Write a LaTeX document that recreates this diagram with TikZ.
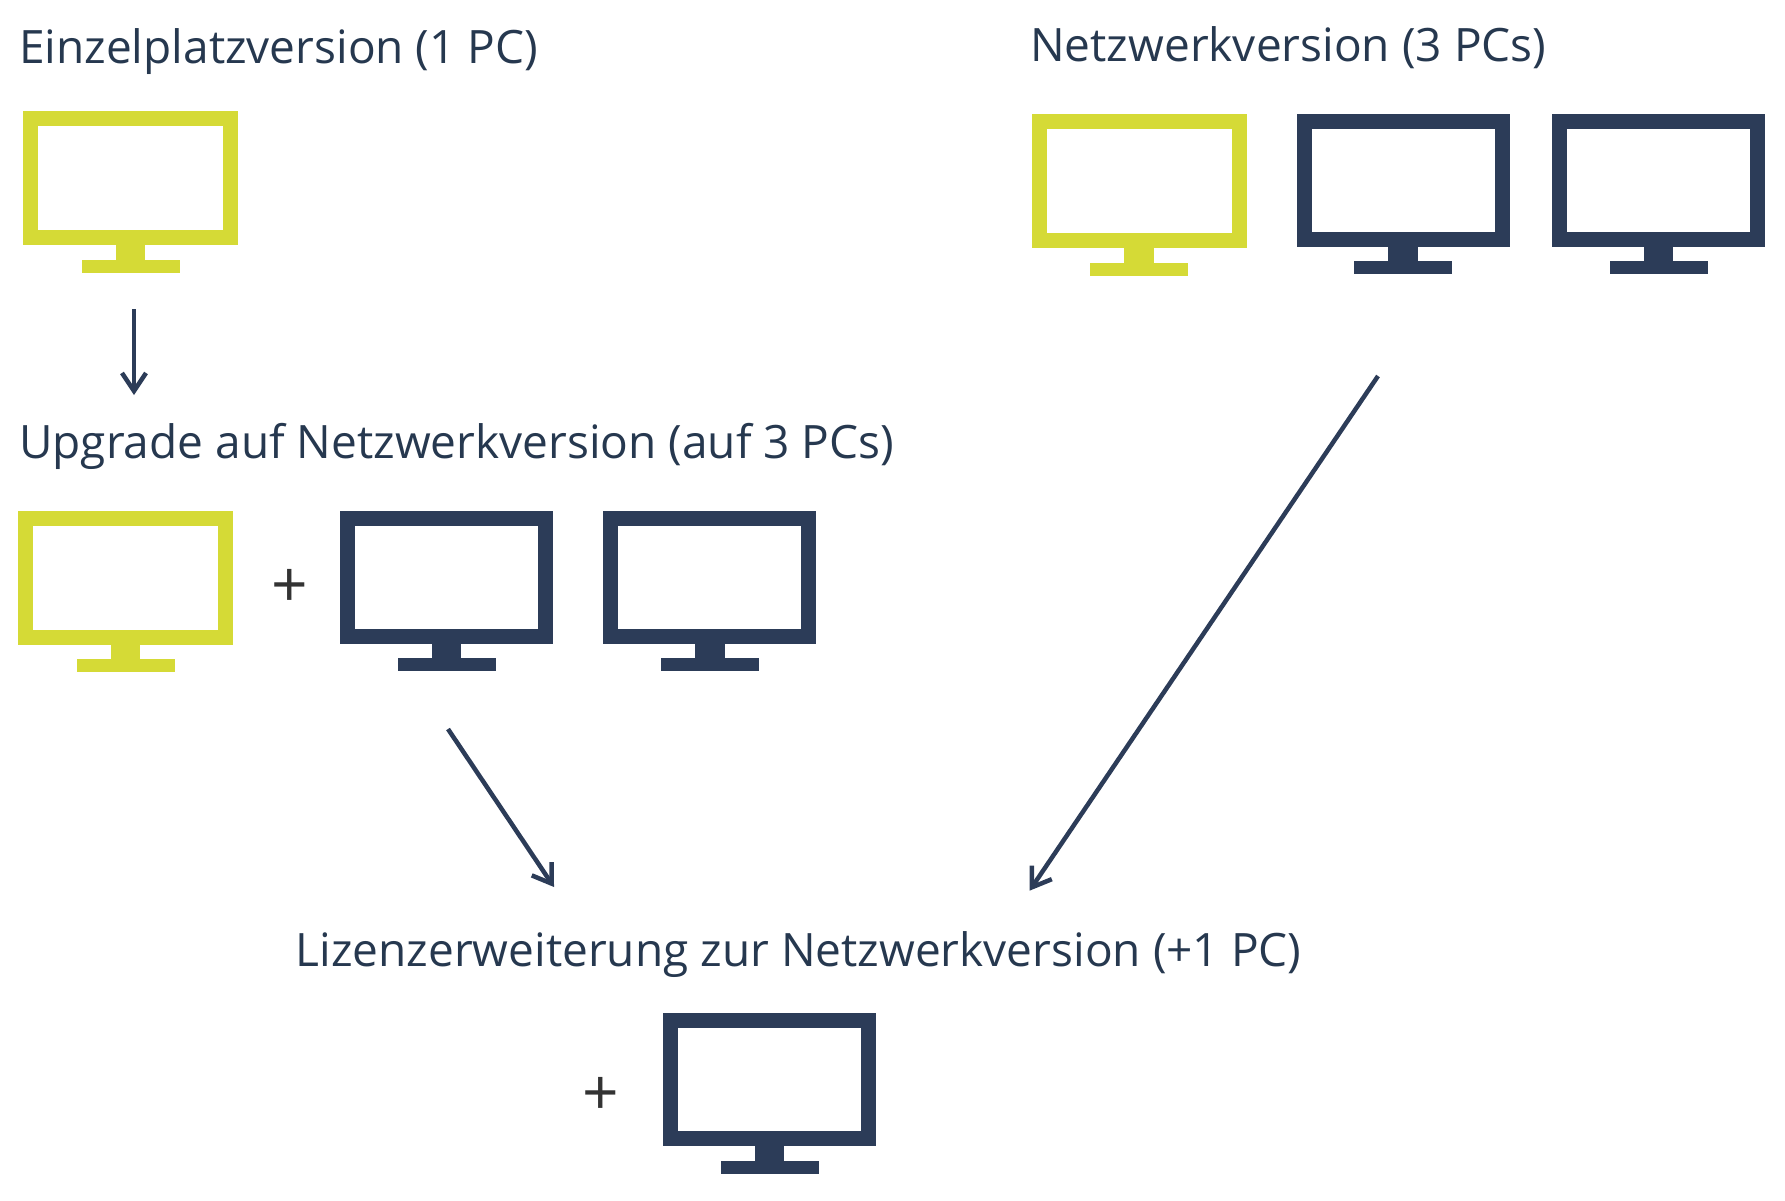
\documentclass[tikz,border=0pt]{standalone}
\usepackage{fontspec}
\usepackage{tikz}
\usetikzlibrary{arrows.meta,calc}
\setmainfont{Open Sans}
\definecolor{pcgreen}{HTML}{D5DA36}
\definecolor{pcdark}{HTML}{2C3C58}
\definecolor{labeltext}{HTML}{26384F}
\definecolor{plusgrey}{HTML}{333333}
\tikzset{
	heading/.style={anchor=base west, inner sep=0pt, text=labeltext, font=\fontsize{46}{54}\selectfont},
	plussign/.style={inner sep=0pt, text=plusgrey, font=\fontsize{64}{70}\selectfont},
	screen/.style={draw=#1, line width=15pt, inner sep=0pt, outer sep=0pt, anchor=north west},
	conn/.style={draw=pcdark, line width=4.5pt, -{Straight Barb[length=18pt,width=24pt,line width=4.5pt]}}
}
\begin{document}
\begin{tikzpicture}[x=1pt, y=-1pt]
\useasboundingbox (0,0) rectangle (1785,1200);
\node[heading] (single) at (19,63.5) {Einzelplatzversion (1 PC)};
\node[heading] (network) at (1030,61) {Netzwerkversion (3 PCs)};
\node[heading] (upgrade) at (19,458) {Upgrade auf Netzwerkversion (auf 3 PCs)};
\node[heading] (extension) at (295.5,966) {Lizenzerweiterung zur Netzwerkversion (+1 PC)};
% monitors: name, left, top, inner width, inner height, colour
\foreach \name/\x/\y/\w/\h/\col in {pcA/23/111/200/119/pcgreen, pcB/1031.5/113.5/200/119.5/pcgreen, pcC/1296.5/113.5/198/118/pcdark, pcD/1552/113.5/198/118/pcdark,
	pcE/18/510.5/200/119/pcgreen, pcF/340/510.5/198/118/pcdark, pcG/603.3/510.5/198/118/pcdark, pcH/663/1013/198/118/pcdark} {
	\node[screen=\col, minimum width=\w pt, minimum height=\h pt] (\name) at (\x+7.5,\y+7.5) {};
	\fill[\col] ($(\name.south)+(-14.7,7)$) rectangle ++(29.4,15);
	\fill[\col] ($(\name.south)+(-49,22)$) rectangle ++(98,13);
}
\node[plussign] (plusA) at (289.3,588) {+};
\node[plussign] (plusB) at (601,1096) {+};
\coordinate (startA) at (134,309); \coordinate (endA) at (134,395);
\coordinate (startB) at (1378,376); \coordinate (endB) at (1029.5,890.7);
\coordinate (startC) at (448,729); \coordinate (endC) at (554,887);
\draw[conn] (startA) -- (endA);
\draw[conn] (startB) -- (endB);
\draw[conn] (startC) -- (endC);
\end{tikzpicture}
\end{document}
